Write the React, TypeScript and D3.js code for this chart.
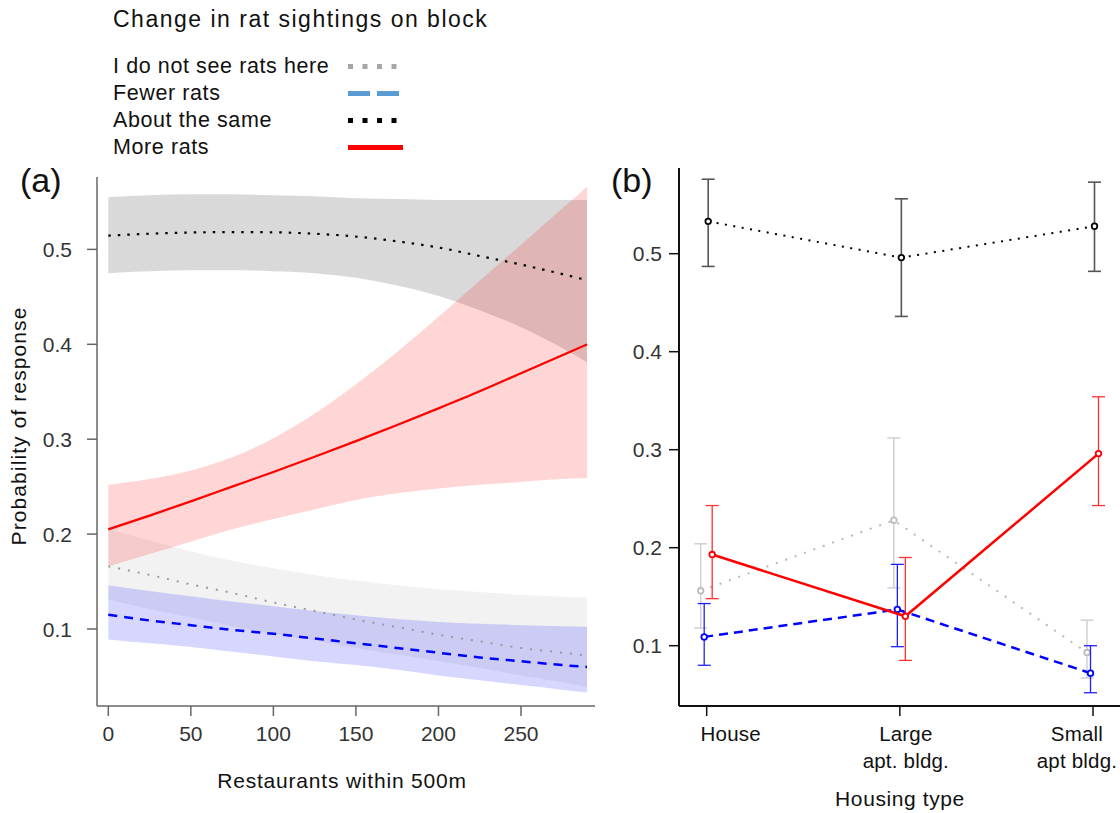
import React from 'react';
import * as d3 from 'd3';

// panel (a): fitted probabilities along restaurant count
const restaurants = [0, 25, 50, 75, 100, 125, 150, 175, 200, 225, 250, 275, 290];

const noneFit = [0.166, 0.157, 0.147, 0.138, 0.128, 0.119, 0.110, 0.102, 0.094, 0.087, 0.080, 0.075, 0.072];
const noneLo = [0.131, 0.121, 0.112, 0.103, 0.095, 0.088, 0.080, 0.073, 0.066, 0.059, 0.051, 0.044, 0.039];
const noneHi = [0.205, 0.193, 0.182, 0.172, 0.164, 0.157, 0.151, 0.146, 0.142, 0.139, 0.136, 0.134, 0.133];

const fewerFit = [0.115, 0.109, 0.104, 0.099, 0.095, 0.090, 0.085, 0.080, 0.075, 0.070, 0.066, 0.062, 0.060];
const fewerLo = [0.089, 0.085, 0.081, 0.076, 0.071, 0.066, 0.062, 0.057, 0.051, 0.046, 0.041, 0.036, 0.033];
const fewerHi = [0.146, 0.140, 0.1345, 0.129, 0.124, 0.119, 0.1145, 0.1105, 0.1075, 0.1055, 0.104, 0.103, 0.1025];

const sameFit = [0.5145, 0.5165, 0.5178, 0.5183, 0.518, 0.5165, 0.5135, 0.5085, 0.502, 0.493, 0.484, 0.474, 0.4675];
const sameLo = [0.475, 0.477, 0.478, 0.478, 0.477, 0.475, 0.470, 0.462, 0.451, 0.436, 0.418, 0.396, 0.381];
const sameHi = [0.555, 0.557, 0.558, 0.558, 0.557, 0.556, 0.554, 0.553, 0.552, 0.552, 0.552, 0.552, 0.552];

const moreFit = [0.205, 0.2195, 0.2345, 0.250, 0.2655, 0.2815, 0.298, 0.315, 0.3325, 0.3505, 0.3695, 0.3885, 0.400];
const moreLo = [0.166, 0.179, 0.192, 0.205, 0.216, 0.226, 0.236, 0.243, 0.248, 0.252, 0.255, 0.258, 0.259];
const moreHi = [0.252, 0.258, 0.267, 0.281, 0.301, 0.327, 0.358, 0.392, 0.429, 0.467, 0.505, 0.543, 0.566];

const xTicksA = [0, 50, 100, 150, 200, 250];
const yTicks = [0.1, 0.2, 0.3, 0.4, 0.5];

// panel (b): housing type
const housingTypes = ['House', 'Large apt. bldg.', 'Small apt bldg.'];
const housingLabels = [['House'], ['Large', 'apt. bldg.'], ['Small', 'apt bldg.']];

const noneMean = [0.156, 0.228, 0.093];
const noneLower = [0.118, 0.159, 0.067];
const noneUpper = [0.204, 0.312, 0.126];

const fewerMean = [0.109, 0.137, 0.072];
const fewerLower = [0.080, 0.099, 0.052];
const fewerUpper = [0.143, 0.183, 0.100];

const sameMean = [0.533, 0.496, 0.528];
const sameLower = [0.487, 0.436, 0.482];
const sameUpper = [0.576, 0.556, 0.573];

const moreMean = [0.193, 0.130, 0.296];
const moreLower = [0.148, 0.085, 0.243];
const moreUpper = [0.243, 0.190, 0.354];

const legendLabels = ['I do not see rats here', 'Fewer rats', 'About the same', 'More rats'];

const FONT = '"Liberation Sans", Arial, sans-serif';

const W = 1120;
const H = 813;

// panel a frame
const aLeft = 97, aRight = 595, aTop = 177, aBottom = 706;
// panel b frame
const bLeft = 679, bRight = 1120, bTop = 168, bBottom = 706;

const xA = d3.scaleLinear().domain([0, 250]).range([108.3, 521]);
const yA = d3.scaleLinear().domain([0.1, 0.5]).range([629, 249.4]);
const xB = d3.scalePoint<string>().domain(housingTypes).range([706.7, 1093]);
const yB = d3.scaleLinear().domain([0.1, 0.5]).range([645.7, 253.7]);

const bandA = (lo: number[], hi: number[]) =>
  d3.area<number>()
    .x((_, i) => xA(restaurants[i]))
    .y0((_, i) => yA(lo[i]))
    .y1((_, i) => yA(hi[i]))
    .curve(d3.curveMonotoneX)(restaurants) || '';

const lineA = (v: number[]) =>
  d3.line<number>()
    .x((_, i) => xA(restaurants[i]))
    .y((d) => yA(d))
    .curve(d3.curveMonotoneX)(v) || '';

const seriesB = [
  { mean: noneMean, lo: noneLower, hi: noneUpper, dodge: -6, line: '#b8b8b8', bar: '#d0d0d0', pt: '#bdbdbd', w: 2, dash: '2 8', barW: 1.5 },
  { mean: fewerMean, lo: fewerLower, hi: fewerUpper, dodge: -2.5, line: '#0000ff', bar: '#2020ff', pt: '#0000ff', w: 2.5, dash: '9 6', barW: 1.3 },
  { mean: sameMean, lo: sameLower, hi: sameUpper, dodge: 1.5, line: '#000', bar: '#555', pt: '#000', w: 2, dash: '2 6.5', barW: 1.6 },
  { mean: moreMean, lo: moreLower, hi: moreUpper, dodge: 5.5, line: '#ff0000', bar: '#ff3030', pt: '#ff0000', w: 2.5, dash: undefined, barW: 1.3 },
];

const legendStyles = [
  { color: '#a6a6a6', dash: '5 9.5', w: 5 },
  { color: '#5b9bd5', dash: '22 7', w: 5 },
  { color: '#000', dash: '5 9.5', w: 5 },
  { color: '#ff0000', dash: undefined, w: 5 },
];

const App: React.FC = () => {
  const lineB = d3.line<[number, number]>();
  const tickText = { fontFamily: FONT, fontSize: 21, fill: '#333' };

  return (
    <svg width={W} height={H} style={{ position: 'absolute', left: 0, top: 0, background: '#fff' }}>
      {/* legend */}
      <text x={113} y={27} style={{ fontFamily: FONT, fontSize: 23, letterSpacing: 1.5 }} fill="#111">
        Change in rat sightings on block
      </text>
      {legendLabels.map((lab, i) => {
        const y = 73 + i * 27;
        const s = legendStyles[i];
        return (
          <g key={lab}>
            <text x={113} y={y} style={{ fontFamily: FONT, fontSize: 21.5, letterSpacing: 0.6 }} fill="#111">{lab}</text>
            <line x1={348} x2={i === 3 ? 403 : 399} y1={y - 6.5} y2={y - 6.5}
              stroke={s.color} strokeWidth={s.w} strokeDasharray={s.dash} />
          </g>
        );
      })}

      {/* panel (a) */}
      <text x={20} y={192} style={{ fontFamily: FONT, fontSize: 34 }} fill="#111">(a)</text>
      <path d={bandA(sameLo, sameHi)} fill="rgba(128,128,128,0.3)" />
      <path d={bandA(noneLo, noneHi)} fill="rgba(128,128,128,0.1)" />
      <path d={bandA(fewerLo, fewerHi)} fill="rgba(0,0,255,0.16)" />
      <path d={bandA(moreLo, moreHi)} fill="rgba(255,0,0,0.165)" />

      <path d={lineA(noneFit)} fill="none" stroke="#9a9a9a" strokeWidth={2} strokeDasharray="2 8" />
      <path d={lineA(fewerFit)} fill="none" stroke="#0000ff" strokeWidth={2.5} strokeDasharray="9 7" />
      <path d={lineA(sameFit)} fill="none" stroke="#000" strokeWidth={2.2} strokeDasharray="2.5 7" />
      <path d={lineA(moreFit)} fill="none" stroke="#ff0000" strokeWidth={2.2} />

      <line x1={aLeft} x2={aLeft} y1={aTop} y2={aBottom} stroke="#666" strokeWidth={1.5} />
      <line x1={aLeft} x2={aRight} y1={aBottom} y2={aBottom} stroke="#666" strokeWidth={1.5} />
      {yTicks.map((t) => (
        <g key={t}>
          <line x1={aLeft - 10} x2={aLeft} y1={yA(t)} y2={yA(t)} stroke="#666" strokeWidth={1.5} />
          <text x={72} y={yA(t)} dy="0.36em" textAnchor="end" style={tickText}>{t.toFixed(1)}</text>
        </g>
      ))}
      {xTicksA.map((t) => (
        <g key={t}>
          <line x1={xA(t)} x2={xA(t)} y1={aBottom} y2={aBottom + 10} stroke="#666" strokeWidth={1.5} />
          <text x={xA(t)} y={741} textAnchor="middle" style={tickText}>{t}</text>
        </g>
      ))}
      <text x={342} y={788} textAnchor="middle" style={{ fontFamily: FONT, fontSize: 21, letterSpacing: 0.8 }} fill="#111">
        Restaurants within 500m
      </text>
      <text transform="translate(26,426) rotate(-90)" textAnchor="middle"
        style={{ fontFamily: FONT, fontSize: 21, letterSpacing: 1.1 }} fill="#111">
        Probability of response
      </text>

      {/* panel (b) */}
      <text x={611} y={192} style={{ fontFamily: FONT, fontSize: 34 }} fill="#111">(b)</text>
      {seriesB.map((s, si) => {
        const pts: [number, number][] = housingTypes.map((h, i) => [(xB(h) as number) + s.dodge, yB(s.mean[i])]);
        return (
          <g key={si}>
            <path d={lineB(pts) || ''} fill="none" stroke={s.line} strokeWidth={s.w} strokeDasharray={s.dash} />
            {housingTypes.map((h, i) => {
              const x = (xB(h) as number) + s.dodge;
              return (
                <g key={h} stroke={s.bar} strokeWidth={s.barW}>
                  <line x1={x} x2={x} y1={yB(s.lo[i])} y2={yB(s.hi[i])} />
                  <line x1={x - 6.5} x2={x + 6.5} y1={yB(s.lo[i])} y2={yB(s.lo[i])} />
                  <line x1={x - 6.5} x2={x + 6.5} y1={yB(s.hi[i])} y2={yB(s.hi[i])} />
                </g>
              );
            })}
            {pts.map((p, i) => (
              <circle key={i} cx={p[0]} cy={p[1]} r={2.8} fill="#fff" stroke={s.pt} strokeWidth={1.8} />
            ))}
          </g>
        );
      })}

      <line x1={bLeft} x2={bLeft} y1={bTop} y2={bBottom} stroke="#111" strokeWidth={2} />
      <line x1={bLeft} x2={bRight} y1={bBottom} y2={bBottom} stroke="#111" strokeWidth={2} />
      {yTicks.map((t) => (
        <g key={t}>
          <line x1={bLeft - 10} x2={bLeft} y1={yB(t)} y2={yB(t)} stroke="#111" strokeWidth={1.5} />
          <text x={662} y={yB(t)} dy="0.36em" textAnchor="end" style={tickText}>{t.toFixed(1)}</text>
        </g>
      ))}
      {housingTypes.map((h, i) => {
        const x = xB(h) as number;
        const labelShift = [24, 6, -16][i];
        return (
          <g key={h}>
            <line x1={x} x2={x} y1={bBottom} y2={bBottom + 10} stroke="#111" strokeWidth={1.5} />
            {housingLabels[i].map((l, j) => (
              <text key={l} x={x + labelShift} y={741 + j * 27} textAnchor="middle"
                style={{ fontFamily: FONT, fontSize: 20.5, letterSpacing: 0.2 }} fill="#111">{l}</text>
            ))}
          </g>
        );
      })}
      <text x={900} y={806} textAnchor="middle" style={{ fontFamily: FONT, fontSize: 21, letterSpacing: 0.6 }} fill="#111">
        Housing type
      </text>
    </svg>
  );
};

export default App;
